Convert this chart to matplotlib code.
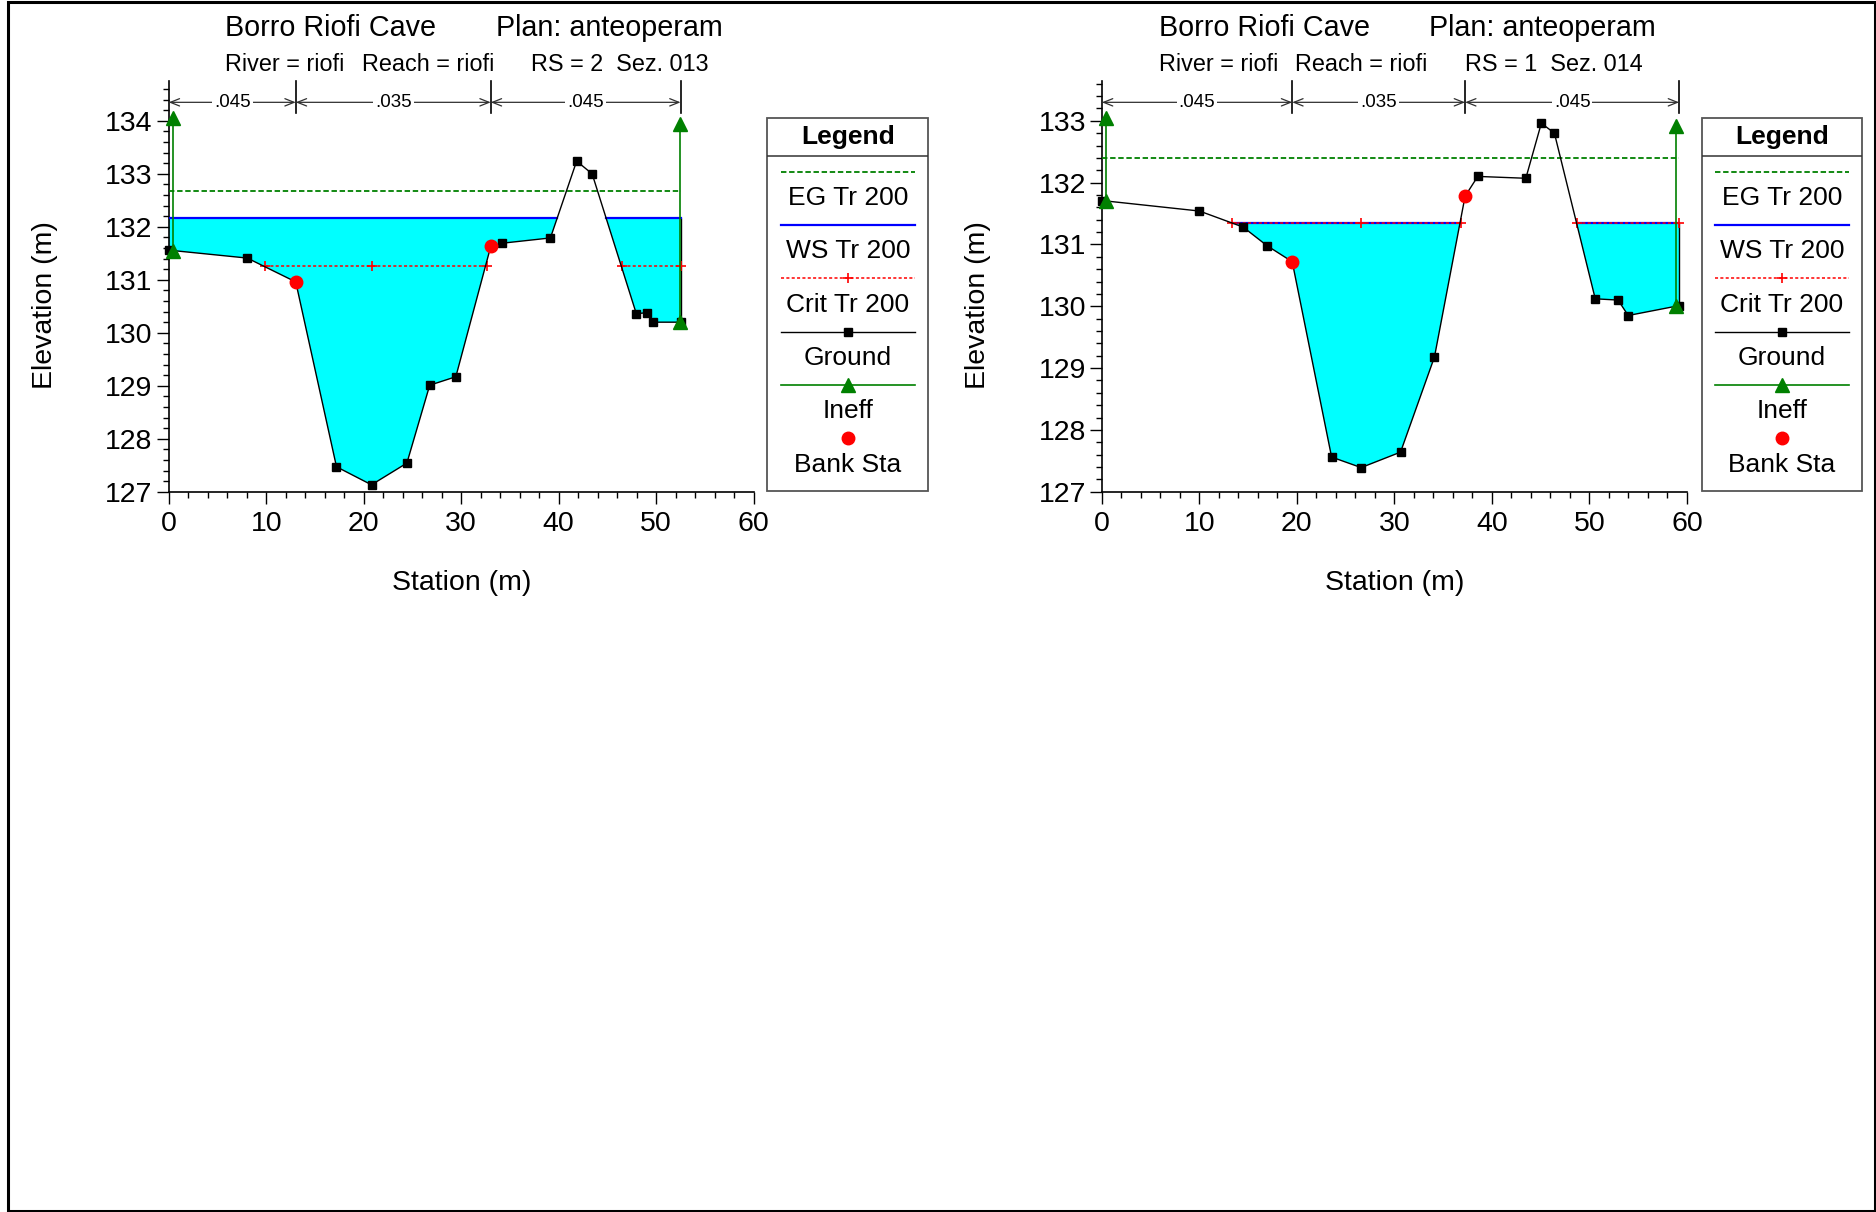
import matplotlib
matplotlib.use('Agg')
import matplotlib.pyplot as plt
import matplotlib.transforms as mtransforms
from matplotlib.patches import Rectangle
from matplotlib.ticker import MultipleLocator

plt.rcParams['font.family'] = ['Liberation Sans', 'DejaVu Sans']

W, H = 1876, 1212

# ---- RS = 2  Sez. 013 (left panel) ----
sta_013 = [0.0, 8.06, 13.03, 17.21, 20.8, 24.43, 26.77, 29.45, 33.03, 34.18,
           39.15, 41.84, 43.43, 47.96, 49.1, 49.65, 52.5]
elev_013 = [131.56, 131.41, 130.96, 127.47, 127.13, 127.54, 129.01, 129.17, 131.63, 131.69,
            131.79, 133.24, 133.0, 130.36, 130.38, 130.2, 130.2]
bank_sta_013 = [13.03, 33.03]
bank_elev_013 = [130.96, 131.63]
ineff_sta_013 = [0.4, 52.41]
ineff_top_013 = [134.05, 133.95]
ineff_bot_013 = [131.55, 130.2]
ws_013 = 132.16
eg_013 = 132.67
crit_013 = 131.26
ws_spans_013 = [(0.0, 39.85), (44.87, 52.5)]
crit_spans_013 = [(9.85, 32.6), (46.45, 52.5)]
crit_marks_013 = [9.85, 20.8, 32.6, 46.45, 52.5]
n_sta_013 = [0.0, 13.03, 33.03, 52.5]
n_val_013 = ['.045', '.035', '.045']
sub_013 = 'RS = 2  Sez. 013'

# ---- RS = 1  Sez. 014 (right panel) ----
sta_014 = [0.0, 10.01, 14.49, 16.93, 19.52, 23.56, 26.59, 30.63, 34.11, 37.25,
           38.55, 43.48, 45.07, 46.41, 50.6, 52.94, 53.98, 59.2]
elev_014 = [131.71, 131.54, 131.28, 130.98, 130.72, 127.56, 127.39, 127.64, 129.18, 131.78,
            132.10, 132.07, 132.96, 132.80, 130.12, 130.10, 129.85, 130.01]
bank_sta_014 = [19.52, 37.25]
bank_elev_014 = [130.72, 131.78]
ineff_sta_014 = [0.4, 58.85]
ineff_top_014 = [133.04, 132.92]
ineff_bot_014 = [131.7, 130.0]
ws_014 = 131.35
eg_014 = 132.40
crit_014 = 131.35
ws_spans_014 = [(13.35, 36.8), (48.7, 59.2)]
crit_spans_014 = [(13.35, 36.8), (48.7, 59.2)]
crit_marks_014 = [13.35, 26.59, 36.8, 48.7, 59.2]
n_sta_014 = [0.0, 19.52, 37.25, 59.2]
n_val_014 = ['.045', '.035', '.045']
sub_014 = 'RS = 1  Sez. 014'

legend_labels = ['EG Tr 200', 'WS Tr 200', 'Crit Tr 200', 'Ground', 'Ineff', 'Bank Sta']

GREEN = '#008000'
CYAN = '#00FFFF'


def px_rect(x0, y0, x1, y1):
    return [x0 / W, 1 - y1 / H, (x1 - x0) / W, (y1 - y0) / H]


def draw_section(ax, sta, elev, bank_sta, bank_elev, ineff_sta, ineff_top, ineff_bot,
                 ws, eg, crit, ws_spans, crit_spans, crit_marks, n_sta, n_val, ytop, subtitle):
    ax.fill_between(sta, elev, ws, where=[e < ws for e in elev], interpolate=True,
                    color=CYAN, lw=0, zorder=1)
    ax.vlines(sta[-1], elev[-1], ws, color='black', lw=1.0, zorder=2)
    ax.plot([sta[0], sta[-1]], [eg, eg], color=GREEN, lw=1.3, ls=(0, (3, 1.5)), zorder=3)
    for a, b in ws_spans:
        ax.plot([a, b], [ws, ws], color='#0000FF', lw=1.6, zorder=3)
    for a, b in crit_spans:
        ax.plot([a, b], [crit, crit], color='red', lw=1.1, ls=(0, (2, 1.5)), zorder=4)
    ax.plot(crit_marks, [crit] * len(crit_marks), ls='none', marker='+', ms=7, mew=1.2,
            color='red', zorder=4, clip_on=False)
    ax.plot(sta, elev, color='black', lw=1.0, marker='s', ms=5.5, zorder=5, clip_on=False)
    for s, t, b in zip(ineff_sta, ineff_top, ineff_bot):
        ax.plot([s, s], [b, t], color=GREEN, lw=1.2, marker='^', ms=10, zorder=6, clip_on=False)
    ax.plot(bank_sta, bank_elev, ls='none', marker='o', ms=9, color='red', zorder=7, clip_on=False)

    ax.set_xlim(0, 60)
    ax.set_ylim(127, ytop)
    ax.spines['top'].set_visible(False)
    ax.spines['right'].set_visible(False)
    ax.spines['left'].set_linewidth(1.2)
    ax.spines['bottom'].set_linewidth(1.2)
    ax.xaxis.set_major_locator(MultipleLocator(10))
    ax.xaxis.set_minor_locator(MultipleLocator(2))
    ax.set_yticks(range(127, int(ytop) + 1))
    ax.yaxis.set_minor_locator(MultipleLocator(0.2))
    ax.tick_params(which='major', direction='out', length=8.5, width=1.0, labelsize=20.5, pad=3)
    ax.tick_params(axis='x', which='major', pad=5.5)
    ax.tick_params(which='minor', direction='out', length=4.5, width=1.0)
    ax.set_xlabel('Station (m)', fontsize=20.5)
    ax.set_ylabel('Elevation (m)', fontsize=20.5)
    ax.xaxis.set_label_coords(0.5, -0.19)
    ax.yaxis.set_label_coords(-0.19, 0.455)

    # Manning's n regions
    trans = mtransforms.blended_transform_factory(ax.transData, ax.transAxes)
    yb = 0.949
    for i in range(len(n_val)):
        a, b = n_sta[i], n_sta[i + 1]
        ax.annotate('', xy=(b, yb), xytext=(a, yb), xycoords=trans, textcoords=trans,
                    arrowprops=dict(arrowstyle='<->,head_length=0.55,head_width=0.22',
                                    color='#303030', lw=0.9, shrinkA=0, shrinkB=0,
                                    mutation_scale=12), annotation_clip=False)
        ax.text((a + b) / 2, yb, n_val[i], transform=trans, ha='center', va='center',
                fontsize=13.5, bbox=dict(fc='white', ec='none', pad=1.5), zorder=8)
    for s in n_sta[1:]:
        ax.plot([s, s], [0.922, 1.0], transform=trans, color='black', lw=1.2, clip_on=False)

    ax.text(0.097, 1.129, 'Borro Riofi Cave', transform=ax.transAxes, fontsize=20.7,
            ha='left', va='center')
    ax.text(0.559, 1.129, 'Plan: anteoperam', transform=ax.transAxes, fontsize=20.7,
            ha='left', va='center')
    ax.text(0.097, 1.041, 'River = riofi', transform=ax.transAxes, fontsize=16.8,
            ha='left', va='center')
    ax.text(0.330, 1.041, 'Reach = riofi', transform=ax.transAxes, fontsize=16.8,
            ha='left', va='center')
    ax.text(0.620, 1.041, subtitle, transform=ax.transAxes, fontsize=16.8,
            ha='left', va='center')


def draw_legend(lax):
    lax.set_xlim(0, 1)
    lax.set_ylim(1, 0)
    lax.axis('off')
    lax.add_patch(Rectangle((0, 0), 1, 1, transform=lax.transAxes, fill=False,
                            ec='#555555', lw=1.3, clip_on=False))
    lax.plot([0, 1], [0.101, 0.101], color='#333333', lw=1.1)
    lax.text(0.5, 0.049, 'Legend', ha='center', va='center', fontsize=19, fontweight='bold')
    x0, x1 = 0.083, 0.917
    step = 0.1433
    ys = [0.143 + i * step for i in range(6)]
    lax.plot([x0, x1], [ys[0]] * 2, color=GREEN, lw=1.3, ls=(0, (3, 1.5)))
    lax.plot([x0, x1], [ys[1]] * 2, color='#0000FF', lw=1.6)
    lax.plot([x0, x1], [ys[2]] * 2, color='red', lw=1.1, ls=(0, (2, 1.5)))
    lax.plot([0.5], [ys[2]], marker='+', ms=7, mew=1.2, color='red')
    lax.plot([x0, x1], [ys[3]] * 2, color='black', lw=1.0)
    lax.plot([0.5], [ys[3]], marker='s', ms=5.5, color='black')
    lax.plot([x0, x1], [ys[4]] * 2, color=GREEN, lw=1.2)
    lax.plot([0.5], [ys[4]], marker='^', ms=10, color=GREEN)
    lax.plot([0.5], [ys[5]], marker='o', ms=9, color='red')
    for y, lab in zip(ys, legend_labels):
        lax.text(0.5, y + 0.071, lab, ha='center', va='center', fontsize=19)


fig = plt.figure(figsize=(W / 100, H / 100), dpi=100)

ax1 = fig.add_axes(px_rect(168.7, 81.4, 753.7, 491.7))
draw_section(ax1, sta_013, elev_013, bank_sta_013, bank_elev_013, ineff_sta_013,
             ineff_top_013, ineff_bot_013, ws_013, eg_013, crit_013, ws_spans_013,
             crit_spans_013, crit_marks_013, n_sta_013, n_val_013, 134.745, sub_013)

ax2 = fig.add_axes(px_rect(1101.9, 81.4, 1686.9, 491.7))
draw_section(ax2, sta_014, elev_014, bank_sta_014, bank_elev_014, ineff_sta_014,
             ineff_top_014, ineff_bot_014, ws_014, eg_014, crit_014, ws_spans_014,
             crit_spans_014, crit_marks_014, n_sta_014, n_val_014, 133.637, sub_014)

draw_legend(fig.add_axes(px_rect(767.3, 118.4, 928.3, 490.5)))
draw_legend(fig.add_axes(px_rect(1701.7, 118.4, 1862.3, 490.5)))

fig.add_artist(Rectangle((8 / W, 1 - 1211 / H), (1874.5 - 8) / W, (1211 - 1.5) / H,
                         transform=fig.transFigure, fill=False, ec='black', lw=2.2))

fig.savefig('out.png', dpi=100)
